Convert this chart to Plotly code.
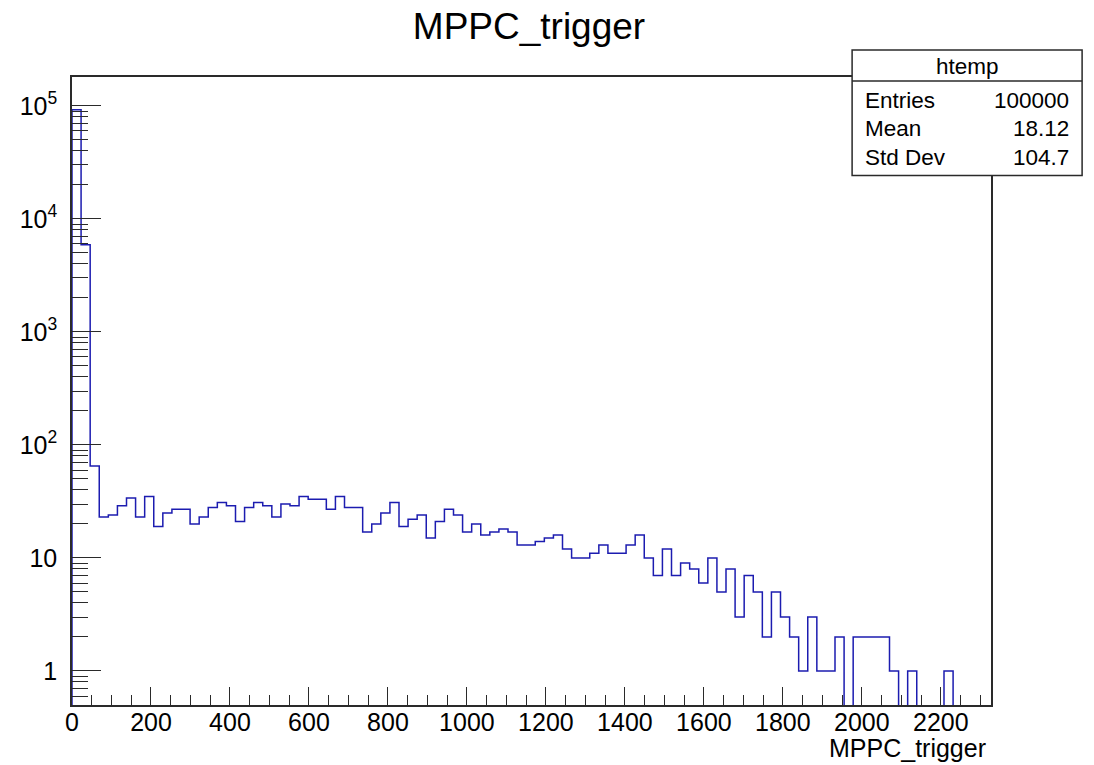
import numpy as np
import plotly.graph_objects as go

# ---- data ----
BIN_WIDTH = 23.0
counts = [92570, 5900, 65,
          23, 24, 29, 34, 23, 35, 19, 25, 27, 27,
          20, 23, 28, 31, 29, 21, 28, 31, 29, 23,
          30, 29, 35, 33, 33, 27, 35, 28, 28, 17,
          20, 25, 31, 19, 22, 24, 15, 21, 27, 24,
          17, 20, 16, 17, 18, 17, 13, 13, 14, 15,
          16, 12, 10, 10, 11, 13, 11, 11, 13, 16,
          10, 7, 12, 7, 9, 8, 6, 10, 5, 8,
          3, 7, 5, 2, 5, 3, 2, 1, 3, 1, 1, 2,
          0, 2, 2, 2, 2, 1, 0, 1, 0, 0, 0, 1,
          0, 0, 0]
x_ticks = [0, 200, 400, 600, 800, 1000, 1200, 1400, 1600, 1800, 2000, 2200]
y_ticks = [1, 10, 100, 1000, 10000, 100000]
y_ticktext = ["1", "10", "10<sup>2</sup>", "10<sup>3</sup>", "10<sup>4</sup>", "10<sup>5</sup>"]
stats_labels = ["Entries", "Mean", "Std Dev"]
stats_values = ["100000", "18.12", "104.7"]
hist_name = "htemp"
var_name = "MPPC_trigger"

X_MAX = 2327
Y_MIN, Y_MAX = 0.5, 1.8e5

FONT = "Liberation Sans, Arial, Helvetica, sans-serif"
LINE_C = "#2a2a2a"

# page body has an 8px default margin; compensate so the figure lands where the reference is
OFF = 8
W, H = 1094 - OFF, 765 - OFF
PL, PT, PW, PH = 68, 77, 923, 628   # plot area in window pixels

cnt = np.array(counts, dtype=float)
edges = np.arange(len(cnt) + 1) * BIN_WIDTH
floor = 1e-3
yp = np.where(cnt > 0, cnt, floor)
xs = np.concatenate([[0.0], edges])
ys = np.concatenate([[floor], yp, [floor]])

fig = go.Figure()
fig.add_trace(go.Scatter(x=xs, y=ys, mode="lines", line=dict(shape="hv", color="#1c1cb0", width=1.5),
                         hoverinfo="skip"))

minor_y = []
for e in range(-1, 6):
    for d in range(2, 10):
        v = d * 10.0 ** e
        if Y_MIN <= v <= Y_MAX:
            minor_y.append(v)

fig.update_layout(
    width=W, height=H,
    margin=dict(l=PL - OFF, r=W - (PL - OFF) - PW, t=PT - OFF, b=H - (PT - OFF) - PH),
    plot_bgcolor="white", paper_bgcolor="white",
    showlegend=False,
    font=dict(family=FONT, color="black"),
    title=dict(text=var_name, x=(529 - OFF) / W, xanchor="center", xref="container",
               y=1 - (26 - OFF) / H, yanchor="middle", yref="container",
               font=dict(size=37, family=FONT, color="black")),
    xaxis=dict(range=[0, X_MAX], showline=True, mirror=True, linecolor=LINE_C, linewidth=1.5,
               ticks="inside", ticklen=18, tickwidth=1.3, tickcolor=LINE_C,
               tickmode="array", tickvals=x_ticks,
               tickfont=dict(size=25, family=FONT, color="black"),
               showgrid=False, zeroline=False, ticklabelstandoff=-6,
               minor=dict(ticks="inside", ticklen=10, tickwidth=1.3, tickcolor=LINE_C,
                          dtick=50, tick0=0, showgrid=False)),
    yaxis=dict(type="log", range=[np.log10(Y_MIN), np.log10(Y_MAX)],
               showline=True, mirror=True, linecolor=LINE_C, linewidth=1.5,
               ticks="inside", ticklen=29, tickwidth=1.3, tickcolor=LINE_C,
               tickmode="array", tickvals=y_ticks, ticktext=y_ticktext,
               tickfont=dict(size=25, family=FONT, color="black"),
               showgrid=False, zeroline=False, ticklabelstandoff=8,
               minor=dict(ticks="inside", ticklen=16, tickwidth=1.3, tickcolor=LINE_C,
                          tickmode="array", tickvals=minor_y, showgrid=False)),
)


def px(xp):
    return (xp - PL) / PW


def py(yp_):
    return (PT + PH - yp_) / PH


# x-axis title (right aligned, ROOT style)
fig.add_annotation(text=var_name, xref="paper", yref="paper", x=px(988), y=py(748),
                   xanchor="right", yanchor="middle", showarrow=False,
                   font=dict(size=25, family=FONT, color="black"))

# ---- stats box ----
bx0, bx1, by0, by1, bsep = px(851.5), px(1082.5), py(175.5), py(50), py(81)
fig.add_shape(type="rect", xref="paper", yref="paper", x0=bx0, x1=bx1, y0=by0, y1=by1,
              fillcolor="white", line=dict(color=LINE_C, width=1.5), layer="above")
fig.add_shape(type="line", xref="paper", yref="paper", x0=bx0, x1=bx1, y0=bsep, y1=bsep,
              line=dict(color=LINE_C, width=1.3), layer="above")
fig.add_annotation(text=hist_name, xref="paper", yref="paper", x=(bx0 + bx1) / 2, y=py(66),
                   xanchor="center", yanchor="middle", showarrow=False,
                   font=dict(size=22.5, family=FONT, color="black"))
row_y = [100, 128.5, 157]
for lab, val, yy in zip(stats_labels, stats_values, row_y):
    fig.add_annotation(text=lab, xref="paper", yref="paper", x=px(862), y=py(yy),
                       xanchor="left", yanchor="middle", showarrow=False,
                       font=dict(size=22.5, family=FONT, color="black"))
    fig.add_annotation(text=val, xref="paper", yref="paper", x=px(1071), y=py(yy),
                       xanchor="right", yanchor="middle", showarrow=False,
                       font=dict(size=22.5, family=FONT, color="black"))

fig.write_html("out.html")
